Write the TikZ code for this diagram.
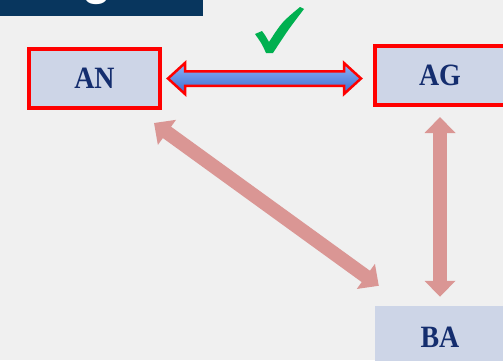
\documentclass[tikz,border=0pt]{standalone}
\usepackage{fontspec}
\newfontfamily\labelfont[FakeStretch=0.9]{Liberation Serif}
\newfontfamily\titlefont{Liberation Sans}
\usetikzlibrary{arrows.meta}
\usetikzlibrary{calc}
\definecolor{backgray}{HTML}{F0F0F0}
\definecolor{bannerblue}{HTML}{08365E}
\definecolor{boxfill}{HTML}{CDD5E7}
\definecolor{labelnavy}{HTML}{142D6E}
\definecolor{linkpink}{HTML}{DA9694}
\definecolor{linktop}{HTML}{8EB4F5}
\definecolor{linkbottom}{HTML}{3A6AD0}
\definecolor{tickgreen}{HTML}{00B050}
\tikzset{
  partbox/.style={fill=boxfill,text=labelnavy,minimum width=130pt,
                  font=\labelfont\bfseries\fontsize{31}{31}\selectfont},
  framed/.style={draw=red,line width=4pt},
  pinklink/.style={{Triangle[width=30pt,length=16pt]}-{Triangle[width=30pt,length=16pt]},
                   line width=14pt,linkpink}
}

\begin{document}
\begin{tikzpicture}[x=1pt,y=1pt]

\useasboundingbox [fill=backgray] (0,0) rectangle (503,360);

% title banner
\fill [bannerblue] (0,360) rectangle (203,344);
\node (title) [anchor=base,text=white,font=\titlefont\bfseries\fontsize{48}{48}\selectfont]
      at (97.5,366) {g};

% the three boxes
\node (an) [partbox,framed,minimum width=131pt,minimum height=59pt] at (94.5,281.5) {AN};
\node (ag) [partbox,framed,minimum height=59pt] at (440,284.5) {AG};
\node (ba) [partbox,minimum height=62pt] at (440,23) {BA};

% blue double arrow
\coordinate (l) at ([xshift=6pt]an.east);
\coordinate (r) at ([xshift=-12pt]ag.west |- l);
\draw [draw=red,line width=2.5pt,line join=miter,top color=linktop,bottom color=linkbottom]
      (l) -- ++(17,15.5) -- ++(0,-8.25) -- ($(r)+(-17,7.25)$) -- ++(0,8.25) -- (r)
      -- ++(-17,-15.5) -- ++(0,8.25) -- ($(l)+(17,-7.25)$) -- ++(0,-8.25) -- cycle;

% tick
\fill [tickgreen] (255,326) .. controls (258,328) .. (262,329)
      .. controls (265,325) .. (269,318)
      .. controls (282,338) .. (300,353) -- (304,351)
      .. controls (288,330) .. (273,307) -- (266,307)
      .. controls (262,316) .. cycle;

% pink links
\draw [pinklink] ([shift={(-8,-13)}]an.south east) -- ([shift={(4,20)}]ba.north west);
\draw [pinklink] ([yshift=-10pt]ag.south) -- ([yshift=9pt]ba.north);

\end{tikzpicture}
\end{document}
